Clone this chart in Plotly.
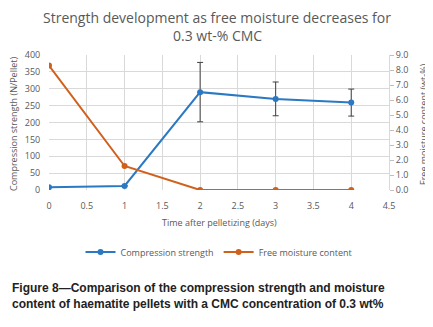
import plotly.graph_objects as go

days = [0, 1, 2, 3, 4]
strength = [8, 12, 290, 270, 259]
strength_err = [0, 0, 88, 50, 40]
moisture = [8.3, 1.6, 0.0, 0.0, 0.0]

blue = "#2B79C2"
orange = "#D0611C"
gray = "#595959"

OFF = 8  # default page body margin
W, H = 433 - OFF, 327 - OFF
ml, mr, mt, mb = 49 - OFF, 44, 55 - OFF, 137
pw, ph = W - ml - mr, H - mt - mb


def px(x):
    return (x - OFF - ml) / pw


def py(y):
    return (H - mb - (y - OFF)) / ph


fig = go.Figure()
fig.add_trace(go.Scatter(
    x=days, y=strength, name="Compression strength", mode="lines+markers",
    line=dict(color=blue, width=2), marker=dict(color=blue, size=6),
    error_y=dict(type="data", array=strength_err, visible=True, color="#404040", thickness=1, width=3),
))
fig.add_trace(go.Scatter(
    x=days, y=moisture, name="Free moisture content", mode="lines+markers",
    line=dict(color=orange, width=2), marker=dict(color=orange, size=6), yaxis="y2",
))

fig.update_layout(
    width=W, height=H, margin=dict(l=ml, r=mr, t=mt, b=mb, autoexpand=False),
    paper_bgcolor="white", plot_bgcolor="white",
    font=dict(family="Open Sans, Calibri, sans-serif", size=9, color=gray),
    xaxis=dict(range=[0, 4.5], dtick=0.5, showgrid=True, gridcolor="#D9D9D9",
               zeroline=False, showline=False, ticks="outside", ticklen=7, tickcolor="rgba(0,0,0,0)",
               automargin=False, tickfont=dict(size=9, color=gray)),
    yaxis=dict(range=[0, 400], dtick=50, showgrid=True, gridcolor="#D9D9D9",
               zeroline=False, showline=False, ticks="outside", ticklen=6, tickcolor="rgba(0,0,0,0)",
               automargin=False, tickfont=dict(size=9, color=gray)),
    yaxis2=dict(range=[0, 9], dtick=1, overlaying="y", side="right", showgrid=False,
                zeroline=False, showline=True, linecolor="#D9D9D9", ticks="outside",
                ticklen=4, tickcolor="#BFBFBF", tickformat=".1f", automargin=False,
                tickfont=dict(size=9, color=gray)),
    legend=dict(orientation="h", x=0.5, xanchor="center", y=1 - (252 - OFF) / H, yref="container",
                yanchor="middle", font=dict(size=9, color=gray), bgcolor="rgba(0,0,0,0)"),
    showlegend=True,
)

anns = [
    dict(text="Strength development as free moisture decreases for", x=px(217), y=py(17),
         font=dict(size=14, color=gray)),
    dict(text="0.3 wt-% CMC", x=px(217), y=py(35), font=dict(size=14, color=gray)),
    dict(text="Time after pelletizing (days)", x=px(219), y=py(222), font=dict(size=9, color=gray)),
    dict(text="Compression strength (N/Pellet)", x=px(13), y=py(124), textangle=-90,
         font=dict(size=9, color=gray)),
    dict(text="Free moisture content (wt-%)", x=px(423), y=py(124), textangle=-90,
         font=dict(size=9, color=gray)),
]
for a in anns:
    fig.add_annotation(xref="paper", yref="paper", xanchor="center", yanchor="middle",
                       showarrow=False, **a)

fig.add_annotation(
    text="<b>Figure 8—Comparison of the compression strength and moisture<br>content of haematite pellets with a CMC concentration of 0.3 wt%</b>",
    xref="paper", yref="paper", x=px(10), xanchor="left",
    y=py(295.5), yanchor="middle", showarrow=False, align="left",
    font=dict(family="Liberation Sans, Arial, sans-serif", size=12, color="#222222"),
)

fig.write_html("out.html")
